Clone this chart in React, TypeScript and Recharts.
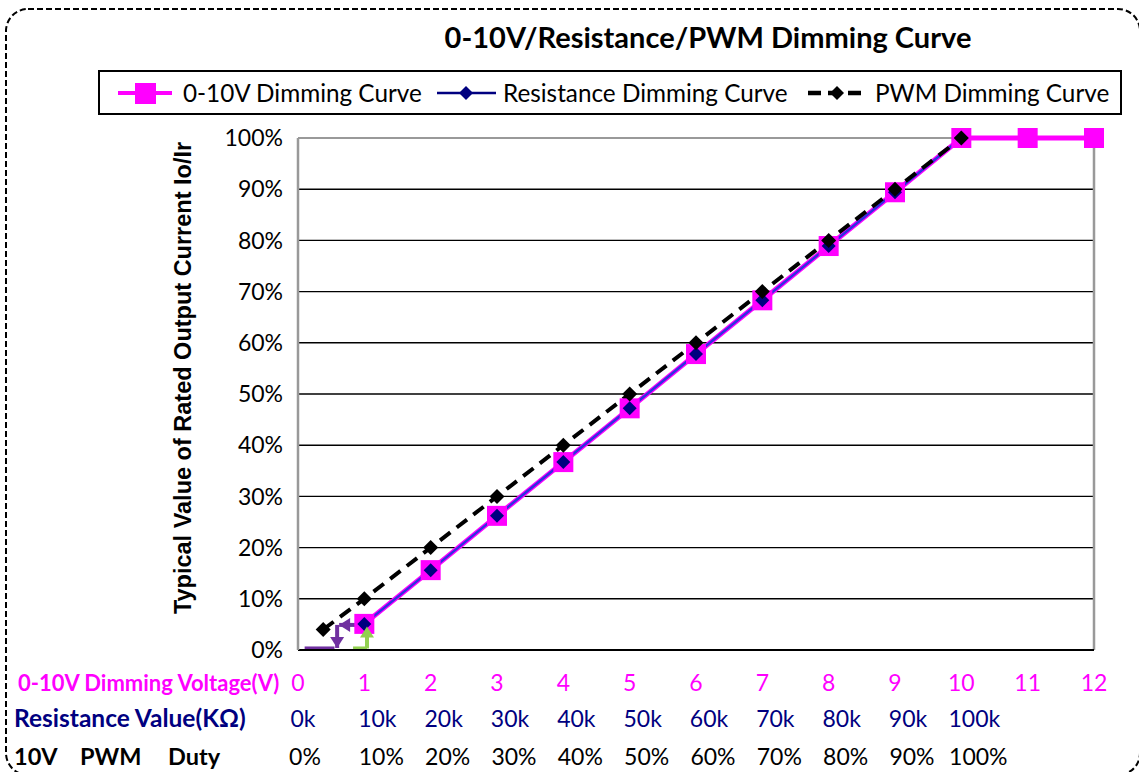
import React from 'react';
import { LineChart, Line, XAxis, YAxis, CartesianGrid, ReferenceLine } from 'recharts';

// ---------- data ----------
const voltageTicks = [0, 1, 2, 3, 4, 5, 6, 7, 8, 9, 10, 11, 12];
const voltageLabels = ['0', '1', '2', '3', '4', '5', '6', '7', '8', '9', '10', '11', '12'];
const resistanceLabels = ['0k', '10k', '20k', '30k', '40k', '50k', '60k', '70k', '80k', '90k', '100k'];
const pwmLabels = ['0%', '10%', '20%', '30%', '40%', '50%', '60%', '70%', '80%', '90%', '100%'];
const yTicks = [0, 10, 20, 30, 40, 50, 60, 70, 80, 90, 100];

const voltageX = [1, 2, 3, 4, 5, 6, 7, 8, 9, 10, 11, 12];
const voltageValues = [5.1, 15.6, 26.2, 36.7, 47.2, 57.8, 68.3, 78.9, 89.4, 100, 100, 100];

const resistanceX = [1, 2, 3, 4, 5, 6, 7, 8, 9, 10];
const resistanceValues = [5.1, 15.6, 26.2, 36.7, 47.2, 57.8, 68.3, 78.9, 89.4, 100];

const pwmX = [0.38, 1, 2, 3, 4, 5, 6, 7, 8, 9, 10];
const pwmValues = [4, 10, 20, 30, 40, 50, 60, 70, 80, 90, 100];

// small annotation arrows near the origin (data coordinates)
const purple = '#7030A0';
const green = '#92D050';
const annotations = [
  { x1: 0.1, y1: 0.3, x2: 0.55, y2: 0.3, color: purple, dir: '' },
  { x1: 1.0, y1: 4.9, x2: 0.62, y2: 4.9, color: purple, dir: 'left' },
  { x1: 0.59, y1: 4.9, x2: 0.59, y2: 0.4, color: purple, dir: 'down' },
  { x1: 0.83, y1: 0.3, x2: 1.04, y2: 0.3, color: green, dir: '' },
  { x1: 1.04, y1: 0.3, x2: 1.04, y2: 4.6, color: green, dir: 'up' },
];

const voltageData = voltageX.map((x, i) => ({ x, y: voltageValues[i] }));
const resistanceData = resistanceX.map((x, i) => ({ x, y: resistanceValues[i] }));
const pwmData = pwmX.map((x, i) => ({ x, y: pwmValues[i] }));

// ---------- style ----------
const FONT = 'Lato, "Open Sans", sans-serif';
const MAGENTA = '#FF00FF';
const NAVY = '#000080';
const BLUE = '#3030E0';

const SquareDot = (props: any) => {
  const { cx, cy, index } = props;
  if (cx == null || cy == null) return <g key={index} />;
  return <rect key={index} x={cx - 10} y={cy - 10} width={20} height={20} fill={MAGENTA} />;
};

const makeDiamond = (color: string, r: number) => (props: any) => {
  const { cx, cy, index } = props;
  if (cx == null || cy == null) return <g key={index} />;
  return (
    <polygon
      key={index}
      points={`${cx},${cy - r} ${cx + r},${cy} ${cx},${cy + r} ${cx - r},${cy}`}
      fill={color}
    />
  );
};

const NavyDiamond = makeDiamond(NAVY, 7);
const BlackDiamond = makeDiamond('#000', 7.5);

const makeArrowHead = (color: string, dir: string) => (props: any) => {
  const { cx, cy, index } = props;
  if (cx == null || cy == null || index !== 1 || !dir) return <g key={index} />;
  const h = 11;
  const w = 7;
  let pts = '';
  if (dir === 'down') pts = `${cx},${cy} ${cx - w},${cy - h} ${cx + w},${cy - h}`;
  if (dir === 'up') pts = `${cx},${cy} ${cx - w},${cy + h} ${cx + w},${cy + h}`;
  if (dir === 'left') pts = `${cx},${cy} ${cx + h},${cy - w} ${cx + h},${cy + w}`;
  if (dir === 'right') pts = `${cx},${cy} ${cx - h},${cy - w} ${cx - h},${cy + w}`;
  return <polygon key={index} points={pts} fill={color} />;
};

const XTick = (props: any) => {
  const { x, y, payload } = props;
  const i = voltageTicks.indexOf(payload.value);
  const rowV = y + 41;
  const rowR = y + 77;
  const rowP = y + 115;
  return (
    <g fontFamily={FONT}>
      <text x={x} y={rowV} textAnchor="middle" fill={MAGENTA} fontSize={23}>
        {voltageLabels[i]}
      </text>
      {i >= 0 && i < resistanceLabels.length && (
        <text x={x + (i === 0 ? 5 : 13)} y={rowR} textAnchor="middle" fill={NAVY} fontSize={23}>
          {resistanceLabels[i]}
        </text>
      )}
      {i >= 0 && i < pwmLabels.length && (
        <text x={x + (i === 0 ? 7 : 17)} y={rowP} textAnchor="middle" fill="#000" fontSize={23}>
          {pwmLabels[i]}
        </text>
      )}
      {i === 0 && (
        <g fontWeight="bold">
          <text x={18} y={rowV} fill={MAGENTA} fontSize={22}>0-10V Dimming Voltage(V)</text>
          <text x={14} y={rowR} fill={NAVY} fontSize={24.5}>Resistance Value(KΩ)</text>
          <text y={rowP} fill="#000" fontSize={23.5}>
            <tspan x={14}>10V</tspan>
            <tspan x={80}>PWM</tspan>
            <tspan x={168}>Duty</tspan>
          </text>
        </g>
      )}
    </g>
  );
};

const YLabel = () => (
  <text
    x={183}
    y={378}
    transform="rotate(-90 183 378)"
    textAnchor="middle"
    dominantBaseline="central"
    fontFamily='"Liberation Sans", Arial, sans-serif'
    fontWeight="bold"
    fontSize={23.5}
    fill="#000"
  >
    Typical Value of Rated Output Current Io/Ir
  </text>
);

const LegendBox = () => (
  <div
    style={{
      position: 'absolute',
      left: 98,
      top: 70,
      width: 1020,
      height: 41,
      border: '2px solid #000',
      boxSizing: 'content-box',
      background: '#fff',
    }}
  >
    <svg width={1020} height={41} style={{ display: 'block' }}>
      <g fontFamily={FONT} fontSize={24.3} fill="#000">
        <line x1={18} y1={21} x2={72} y2={21} stroke={MAGENTA} strokeWidth={4} />
        <rect x={35} y={11} width={21} height={21} fill={MAGENTA} />
        <text x={83} y={29.5}>0-10V Dimming Curve</text>
        <line x1={337} y1={21} x2={396} y2={21} stroke={NAVY} strokeWidth={2.5} />
        <polygon points="366,14 373,21 366,28 359,21" fill={NAVY} />
        <text x={403} y={29.5}>Resistance Dimming Curve</text>
        <line x1={708} y1={21} x2={766} y2={21} stroke="#000" strokeWidth={4.5} strokeDasharray="13 7" />
        <polygon points="737,14 744,21 737,28 730,21" fill="#000" />
        <text x={775} y={29.5}>PWM Dimming Curve</text>
      </g>
    </svg>
  </div>
);

export default function App() {
  return (
    <div
      style={{
        position: 'absolute',
        left: 0,
        top: 0,
        width: 1139,
        height: 772,
        overflow: 'hidden',
        background: '#fff',
      }}
    >
      <svg width={1139} height={772} style={{ position: 'absolute', left: 0, top: 0 }}>
        <rect
          x={6}
          y={9}
          width={1134}
          height={766}
          rx={22}
          ry={22}
          fill="none"
          stroke="#000"
          strokeWidth={2}
          strokeDasharray="6 3"
        />
        <text
          x={708}
          y={48}
          textAnchor="middle"
          fontFamily={FONT}
          fontWeight="bold"
          fontSize={29}
          fill="#000"
        >
          0-10V/Resistance/PWM Dimming Curve
        </text>
      </svg>
      <div style={{ position: 'absolute', left: 0, top: 0 }}>
        <LineChart width={1139} height={772} margin={{ top: 138, right: 45, bottom: 0, left: 0 }}>
          <CartesianGrid vertical={false} stroke="#000" strokeWidth={1.4} />
          <XAxis
            dataKey="x"
            type="number"
            domain={[0, 12]}
            ticks={voltageTicks}
            interval={0}
            tickLine={false}
            tickSize={0}
            tickMargin={0}
            axisLine={{ stroke: '#000', strokeWidth: 2 }}
            height={122}
            tick={<XTick />}
            allowDecimals={false}
          />
          <YAxis
            type="number"
            domain={[0, 100]}
            ticks={yTicks}
            interval={0}
            width={298}
            tickLine={false}
            tickSize={0}
            tickMargin={15}
            tickFormatter={(v: number) => `${v}%`}
            tick={{ fill: '#000', fontSize: 23, fontFamily: FONT }}
            axisLine={{ stroke: '#999', strokeWidth: 2.5 }}
            label={<YLabel />}
          />
          <ReferenceLine y={100} stroke="#999" strokeWidth={2} />
          <ReferenceLine x={12} stroke="#999" strokeWidth={2.5} />
          <Line
            data={voltageData}
            dataKey="y"
            type="linear"
            stroke={MAGENTA}
            strokeWidth={5}
            dot={SquareDot}
            activeDot={false}
            isAnimationActive={false}
            name="0-10V Dimming Curve"
          />
          <Line
            data={resistanceData}
            dataKey="y"
            type="linear"
            stroke={BLUE}
            strokeWidth={2.5}
            dot={NavyDiamond}
            activeDot={false}
            isAnimationActive={false}
            name="Resistance Dimming Curve"
          />
          <Line
            data={pwmData}
            dataKey="y"
            type="linear"
            stroke="#000"
            strokeWidth={4}
            strokeDasharray="13 8"
            dot={BlackDiamond}
            activeDot={false}
            isAnimationActive={false}
            name="PWM Dimming Curve"
          />
          {annotations.map((a, k) => (
            <Line
              key={`ann-${k}`}
              data={[
                { x: a.x1, y: a.y1 },
                { x: a.x2, y: a.y2 },
              ]}
              dataKey="y"
              type="linear"
              stroke={a.color}
              strokeWidth={4}
              dot={makeArrowHead(a.color, a.dir)}
              activeDot={false}
              legendType="none"
              isAnimationActive={false}
            />
          ))}
        </LineChart>
      </div>
      <LegendBox />
    </div>
  );
}
